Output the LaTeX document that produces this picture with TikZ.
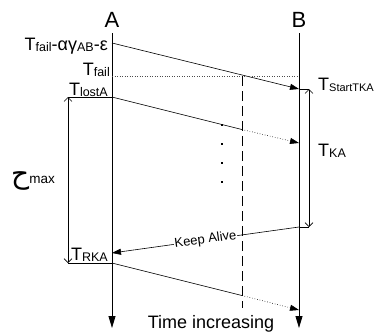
\documentclass[tikz,border=0pt]{standalone}
\usepackage{fontspec}
\setmainfont{Liberation Sans}
\newfontfamily\arabicfont[Script=Arabic]{DejaVu Sans}
\TeXXeTstate=1
\usetikzlibrary{arrows.meta}
\newcommand\smallsub[1]{{\fontsize{12.5}{14}\selectfont\raisebox{-1pt}{#1}}}
\newcommand\tinysub[1]{{\fontsize{11}{13}\selectfont\raisebox{-1pt}{#1}}}
\begin{document}
\begin{tikzpicture}[x=1pt,y=-1pt,font=\fontsize{18}{20}\selectfont,
  lifeline/.style={line width=0.8pt,-{Triangle[length=12pt,width=7pt]}},
  msg/.style={line width=0.6pt},
  msgtip/.style={-{Triangle[length=9pt,width=6pt]}},
  measure/.style={line width=0.6pt,{Straight Barb[length=4pt,width=8pt]}-{Straight Barb[length=4pt,width=8pt]}},
  lbl/.style={inner sep=0pt},
  dotsq/.style={fill=black,inner sep=0pt,minimum size=2.5pt}]
\useasboundingbox (0,0) rectangle (376,333);
% lifelines
\node[lbl,font=\fontsize{22}{24}\selectfont] (A) at (112,20) {A};
\node[lbl,font=\fontsize{22}{24}\selectfont] (B) at (299,20) {B};
\coordinate (At) at (112,33); \coordinate (Ab) at (112,328);
\coordinate (Bt) at (299,33); \coordinate (Bb) at (299,328);
\draw[lifeline] (At) -- (Ab);
\draw[lifeline] (Bt) -- (Bb);
% key points
\coordinate (m1s) at (112,43); \coordinate (m1e) at (299,89);
\coordinate (fA) at (112,76); \coordinate (fB) at (299,76);
\coordinate (dt) at (242,76); \coordinate (db) at (242,308);
\coordinate (m2s) at (112,97); \coordinate (m2x) at (242,129.5); \coordinate (m2e) at (299,143);
\coordinate (kB) at (299,227); \coordinate (kA) at (112,253);
\coordinate (m4s) at (112,263); \coordinate (m4x) at (242,295.5); \coordinate (m4e) at (299,310);
\coordinate (kaT) at (309,89); \coordinate (kaB) at (309,227);
\coordinate (zT) at (68,97); \coordinate (zB) at (68,263);
% messages
\draw[msg,msgtip] (m1s) -- (m1e);
\draw[line width=0.5pt,dotted,black!70] (fA) -- (fB);
\draw[line width=0.6pt,dash pattern=on 10pt off 5pt] (dt) -- (db);
\draw[msg] (m2s) -- (m2x);
\draw[msg,dotted,msgtip] (m2x) -- (m2e);
\draw[msg,msgtip] (kB) -- node[fill=white,inner sep=0.8pt,sloped,font=\fontsize{13}{14}\selectfont] (kal) {Keep Alive} (kA);
\draw[msg] (m4s) -- (m4x);
\draw[msg,dotted,msgtip] (m4x) -- (m4e);
% measures
\draw[msg] (m1e) -- (kaT);
\draw[msg] (kB) -- (kaB);
\draw[measure] (kaT) -- (kaB);
\draw[msg] (m2s) -- (zT);
\draw[msg] (m4s) -- (zB);
\draw[measure] (zT) -- (zB);
% dots
\foreach \y [count=\i] in {125,144,163,182} \node[dotsq] (dot\i) at (222,\y) {};
% labels
\node[lbl,anchor=base east] (l1) at (108,50) {T\smallsub{fail}-αγ\smallsub{AB}-ε};
\node[lbl,anchor=base east] (l2) at (110,75) {T\smallsub{fail}};
\node[lbl,anchor=base east] (l3) at (108,95) {T\smallsub{lostA}};
\node[lbl,anchor=base west] (l4) at (318,90) {T\tinysub{StartTKA}};
\node[lbl,anchor=base west] (l5) at (318,156) {T\smallsub{KA}};
\node[lbl,anchor=base east] (l6) at (108,260) {T\smallsub{RKA}};
\node[lbl,anchor=base west] (l7) at (11,183) {{\arabicfont\fontsize{28}{30}\selectfont\beginR ح\endR}{\fontsize{13.5}{14}\selectfont max}};
\node[lbl,anchor=base] (l8) at (211,328) {Time increasing};
\end{tikzpicture}
\end{document}
